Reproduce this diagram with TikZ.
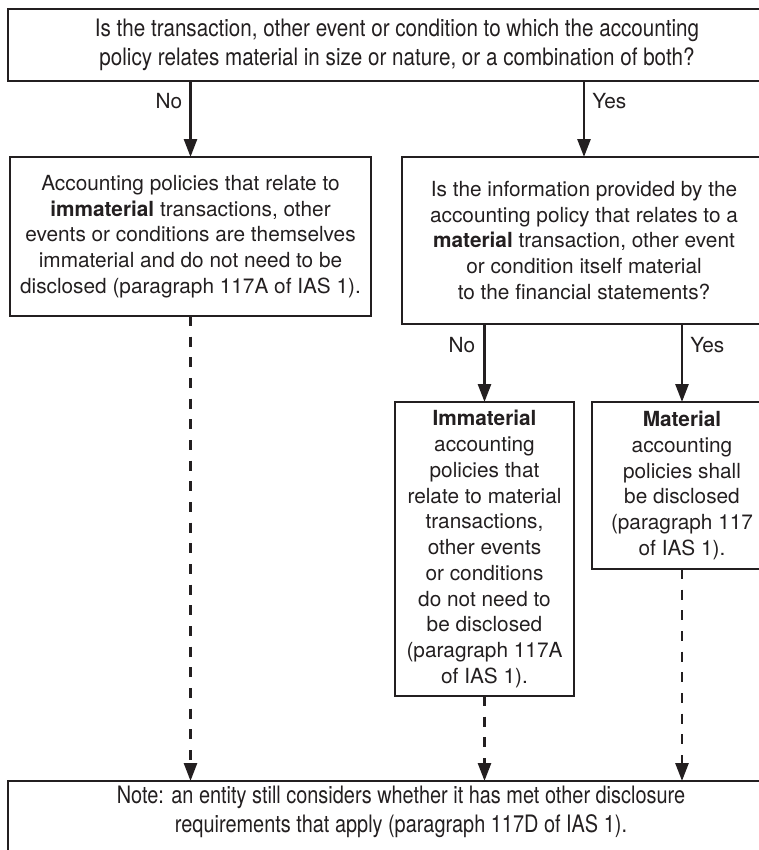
\documentclass[tikz,border=0pt]{standalone}
\usepackage{fontspec}
\setmainfont{TeX Gyre Heros}
\newfontfamily\condfont[FakeStretch=0.86]{TeX Gyre Heros}
\newfontfamily\condfontb[FakeStretch=0.83]{TeX Gyre Heros}
\usetikzlibrary{arrows.meta}
\newlength\pxu
\setlength\pxu{0.75pt}
\definecolor{ink}{RGB}{35,31,32}
\begin{document}
\begin{tikzpicture}[x=0.75pt,y=-0.75pt,
  boxbase/.style={draw=ink, line width=2pt, rectangle, inner sep=0pt, outer sep=0pt, align=center, text=ink},
  regbox/.style={boxbase, font=\fontsize{15.6}{19.3}\selectfont},
  condbox/.style={boxbase, font=\condfont\fontsize{18}{21.75}\selectfont},
  condtxt/.style={align=center, text=ink, inner sep=0pt, font=\condfontb\fontsize{18}{21.75}\selectfont},
  lbl/.style={font=\fontsize{15.6}{19.3}\selectfont, text=ink, inner sep=0pt},
  arr/.style={draw=ink, line width=2pt, -{Triangle[length=13.5pt,width=9.75pt]}},
  darr/.style={arr, dash pattern=on 7.5pt off 8pt}]
\useasboundingbox (0,0) rectangle (759,850);
\clip (0,0) rectangle (759,850);

% boxes
\node[condbox, minimum width=778\pxu, minimum height=72\pxu] (top) at (397,45)
  {Is the transaction, other event or condition to which the accounting\\policy relates material in size or nature, or a combination of both?};
\node[regbox, minimum width=361\pxu, minimum height=159\pxu] (left) at (190.5,236.5)
  {Accounting policies that relate to\\\textbf{immaterial} transactions, other\\events or conditions are themselves\\immaterial and do not need to be\\disclosed (paragraph 117A of IAS 1).};
\node[regbox, minimum width=364\pxu, minimum height=167\pxu] (q2) at (584,240.5)
  {Is the information provided by the\\accounting policy that relates to a\\\textbf{material} transaction, other event\\or condition itself material\\to the financial statements?};
\node[regbox, minimum width=179\pxu, minimum height=294\pxu] (immat) at (484.5,549)
  {\textbf{Immaterial}\\accounting\\policies that\\relate to material\\transactions,\\other events\\or conditions\\do not need to\\be disclosed\\(paragraph 117A\\of IAS 1).};
\node[regbox, minimum width=180\pxu, minimum height=167\pxu] (mat) at (682,485.5)
  {\textbf{Material}\\accounting\\policies shall\\be disclosed\\(paragraph 117\\of IAS 1).};
\node[boxbase, minimum width=786\pxu, minimum height=109\pxu] (note) at (401,835.5) {};
\node[condtxt] (notetext) at (401,811.5)
  {Note: an entity still considers whether it has met other disclosure\\requirements that apply (paragraph 117D of IAS 1).};

% solid arrows
\coordinate (a1) at (left.north |- top.south);
\coordinate (a2) at (q2.north |- top.south);
\coordinate (a3) at (immat.north |- q2.south);
\coordinate (a4) at (mat.north |- q2.south);
\draw[arr] (a1) -- (left.north);
\draw[arr] (a2) -- (q2.north);
\draw[arr] (a3) -- (immat.north);
\draw[arr] (a4) -- (mat.north);
\node[lbl, anchor=east] (no1) at ([xshift=-8\pxu, yshift=-20\pxu]a1) {No};
\node[lbl, anchor=west] (yes1) at ([xshift=8\pxu, yshift=-20\pxu]a2) {Yes};
\node[lbl, anchor=east] (no2) at ([xshift=-9\pxu, yshift=-21\pxu]a3) {No};
\node[lbl, anchor=west] (yes2) at ([xshift=8\pxu, yshift=-21\pxu]a4) {Yes};

% dashed arrows
\draw[darr] (left.south) -- (left.south |- note.north);
\draw[darr] (immat.south) -- (immat.south |- note.north);
\draw[darr] (mat.south) -- (mat.south |- note.north);
\end{tikzpicture}
\end{document}
